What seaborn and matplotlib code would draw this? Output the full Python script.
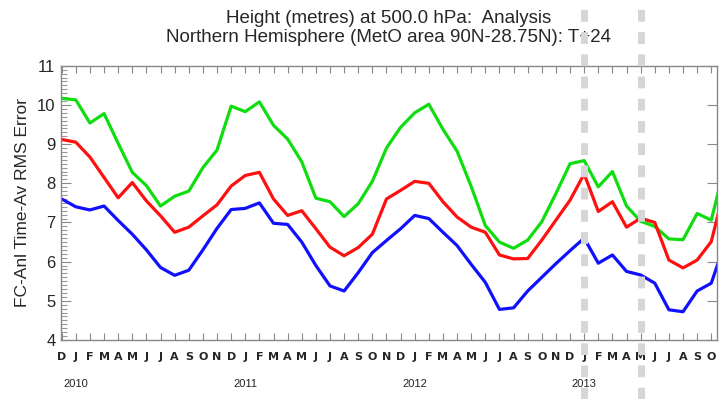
import numpy as np
import pandas as pd
import matplotlib
matplotlib.use("Agg")
import matplotlib.pyplot as plt
import matplotlib.transforms as mtransforms
from matplotlib.ticker import MultipleLocator
import seaborn as sns

# months Dec 2009 .. Nov 2013 (last one is cut by the right frame)
month_labels = ['D'] + list('JFMAMJJASOND') * 3 + list('JFMAMJJASON')
month_idx = list(range(len(month_labels)))

year_labels = ['2010', '2011', '2012', '2013']
year_pos = [1, 13, 25, 37]          # January of each year

cutover_pos = [37, 41]              # Jan 2013, May 2013 (dashed markers)

green_rms = [10.17, 10.13, 9.54, 9.78, 9.02, 8.28, 7.94, 7.42, 7.67, 7.80, 8.40, 8.85,
             9.97, 9.83, 10.08, 9.48, 9.13, 8.55, 7.62, 7.53, 7.15, 7.48, 8.05, 8.90,
             9.43, 9.80, 10.02, 9.38, 8.82, 7.92, 6.92, 6.50, 6.34, 6.55, 7.02, 7.74,
             8.50, 8.58, 7.91, 8.30, 7.42, 7.03, 6.90, 6.58, 6.56, 7.23, 7.06, 8.50]
red_rms = [9.12, 9.05, 8.67, 8.15, 7.63, 8.02, 7.55, 7.17, 6.75, 6.88, 7.17, 7.45,
           7.93, 8.20, 8.28, 7.60, 7.18, 7.30, 6.84, 6.37, 6.15, 6.36, 6.70, 7.60,
           7.82, 8.05, 8.00, 7.53, 7.14, 6.88, 6.75, 6.17, 6.07, 6.08, 6.55, 7.06,
           7.57, 8.24, 7.28, 7.53, 6.88, 7.11, 7.00, 6.04, 5.84, 6.04, 6.51, 7.95]
blue_rms = [7.60, 7.40, 7.32, 7.42, 7.05, 6.70, 6.30, 5.85, 5.65, 5.78, 6.30, 6.85,
            7.33, 7.36, 7.50, 6.98, 6.95, 6.50, 5.90, 5.38, 5.25, 5.72, 6.23, 6.54,
            6.84, 7.18, 7.10, 6.75, 6.41, 5.93, 5.47, 4.78, 4.82, 5.25, 5.60, 5.95,
            6.28, 6.60, 5.96, 6.17, 5.75, 5.66, 5.45, 4.77, 4.72, 5.25, 5.45, 6.50]

series_colors = {'green': '#10dd10', 'red': '#ff1010', 'blue': '#1010ff'}

df = pd.DataFrame({
    'month': month_idx * 3,
    'rms': green_rms + red_rms + blue_rms,
    'series': ['green'] * len(green_rms) + ['red'] * len(red_rms) + ['blue'] * len(blue_rms),
})

sns.set_style("white")
plt.rcParams['font.family'] = ['Liberation Sans', 'DejaVu Sans']

fig = plt.figure(figsize=(7.2, 3.99), dpi=100)
ax = fig.add_axes([0.0847, 0.148, 0.911, 0.687])

sns.lineplot(data=df, x='month', y='rms', hue='series', palette=series_colors,
             linewidth=2.3, legend=False, ax=ax, sort=False)

ax.set_xlabel('')
ax.set_ylabel('FC-Anl Time-Av RMS Error', fontsize=12.5, labelpad=5)

ax.set_xticks(month_idx)
ax.set_xticklabels(month_labels, fontsize=8, fontweight='bold', family='DejaVu Sans')
ax.tick_params(axis='x', which='major', direction='in', length=5, width=0.8,
               top=True, bottom=True, color='#888888', pad=9)

ax.set_yticks(range(4, 12))
ax.yaxis.set_minor_locator(MultipleLocator(0.1))
ax.tick_params(axis='y', which='major', direction='in', length=7, width=0.8,
               left=True, right=True, color='#888888', labelsize=12, pad=4)
ax.tick_params(axis='y', which='minor', direction='in', length=4, width=0.8,
               left=True, right=False, color='#999999')

# limits after the ticks, otherwise set_xticks widens the view again
ax.set_xlim(-0.05, 46.4)
ax.set_ylim(4, 11)

for s in ax.spines.values():
    s.set_color('#888888')
    s.set_linewidth(1.0)

ax.set_title('Height (metres) at 500.0 hPa:  Analysis\n'
             'Northern Hemisphere (MetO area 90N-28.75N): T+24',
             fontsize=13.5, linespacing=1.15, pad=17)

for yr, pos in zip(year_labels, year_pos):
    ax.text(pos, -0.16, yr, transform=ax.get_xaxis_transform(),
            ha='center', va='center', fontsize=8, color='#222222')

# thick dashed grey markers across the whole figure height
trans = mtransforms.blended_transform_factory(ax.transData, fig.transFigure)
for pos in cutover_pos:
    ax.plot([pos, pos], [0, 1], transform=trans, clip_on=False,
            color='#d6d6d6', linewidth=5, linestyle=(0, (1.7, 1.5)),
            solid_capstyle='butt', dash_capstyle='butt', zorder=10)

fig.savefig('out.png', dpi=100)
